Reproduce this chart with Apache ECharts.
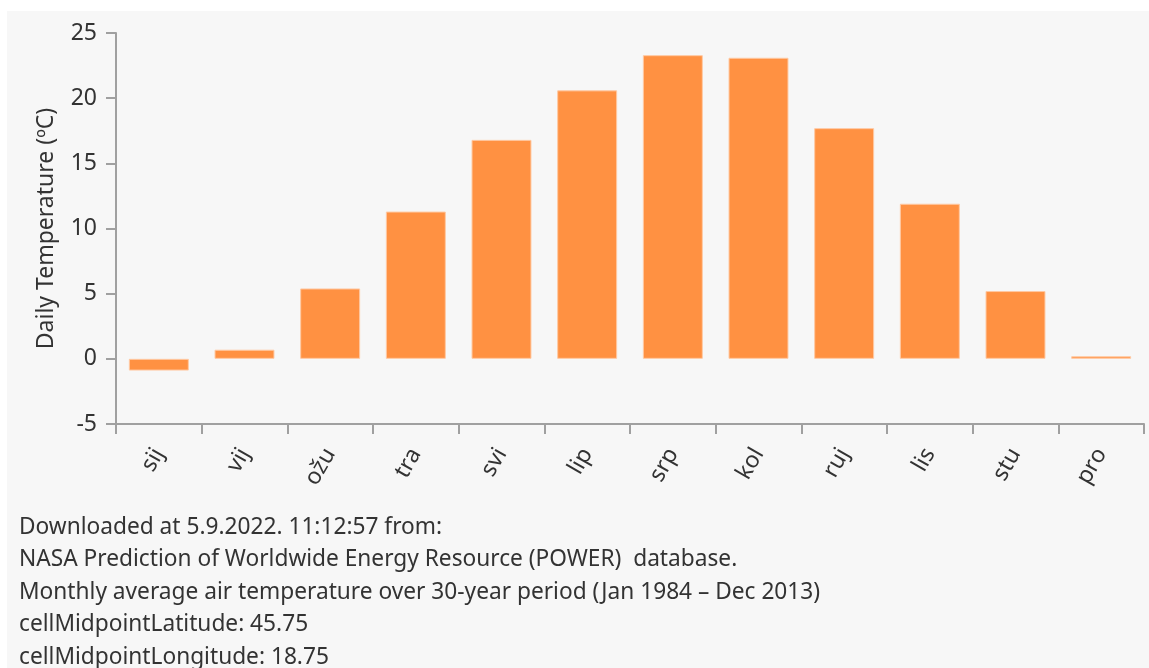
<!DOCTYPE html>
<html>
<head>
<meta charset="utf-8">
<script src="https://cdn.jsdelivr.net/npm/echarts@6/dist/echarts.min.js"></script>
<style>
  html, body { margin: 0; padding: 0; background: #ffffff; }
  #chart { width: 1149px; height: 668px; }
</style>
</head>
<body>
<div id="chart"></div>
<script>
// Monthly average daily air temperature (ºC), Croatian month abbreviations
const months = ['sij', 'vij', 'ožu', 'tra', 'svi', 'lip', 'srp', 'kol', 'ruj', 'lis', 'stu', 'pro'];
const temperatures = [-0.9, 0.7, 5.4, 11.3, 16.8, 20.6, 23.3, 23.1, 17.7, 11.9, 5.2, 0.2];
const yAxisTitle = 'Daily Temperature (ºC)';
const footerLines = [
  'Downloaded at 5.9.2022. 11:12:57 from:',
  'NASA Prediction of Worldwide Energy Resource (POWER)  database.',
  'Monthly average air temperature over 30-year period (Jan 1984 – Dec 2013)',
  'cellMidpointLatitude: 45.75',
  'cellMidpointLongitude: 18.75'
];

const FONT = '"Noto Sans", "Open Sans", sans-serif';
const TEXT_COLOR = '#333333';
const AXIS_COLOR = '#a0a0a0';

const chart = echarts.init(document.getElementById('chart'), null, { renderer: 'canvas' });

chart.setOption({
  backgroundColor: '#ffffff',
  animation: false,
  textStyle: { fontFamily: FONT },
  graphic: [
    {
      type: 'rect',
      z: -10,
      silent: true,
      shape: { x: 7, y: 11, width: 1142, height: 657 },
      style: { fill: '#f7f7f7' }
    },
    {
      type: 'text',
      left: 19,
      top: 511,
      silent: true,
      style: {
        text: footerLines.join('\n'),
        font: '22.7px ' + FONT,
        fill: TEXT_COLOR,
        lineHeight: 32.5
      }
    }
  ],
  grid: {
    left: 116,
    right: 5,
    top: 33,
    bottom: 244,
    containLabel: false
  },
  xAxis: {
    type: 'category',
    data: months,
    axisLine: { onZero: false, lineStyle: { color: AXIS_COLOR, width: 2 } },
    axisTick: { show: true, length: 10, lineStyle: { color: AXIS_COLOR, width: 2 } },
    axisLabel: {
      rotate: 60,
      margin: 26,
      fontSize: 23,
      color: TEXT_COLOR,
      fontFamily: FONT
    },
    splitLine: { show: false }
  },
  yAxis: {
    type: 'value',
    min: -5,
    max: 25,
    interval: 5,
    name: yAxisTitle,
    nameLocation: 'middle',
    nameGap: 58,
    nameTextStyle: { fontSize: 23, color: TEXT_COLOR, fontFamily: FONT },
    axisLine: { show: true, lineStyle: { color: AXIS_COLOR, width: 2 } },
    axisTick: { show: true, length: 10, lineStyle: { color: AXIS_COLOR, width: 2 } },
    axisLabel: { fontSize: 23, color: TEXT_COLOR, margin: 19, fontFamily: FONT },
    splitLine: { show: false }
  },
  series: [
    {
      type: 'bar',
      data: temperatures,
      barWidth: '70%',
      itemStyle: {
        color: '#ff9142',
        borderColor: '#ffc9a3',
        borderWidth: 1
      }
    }
  ]
});
</script>
</body>
</html>
